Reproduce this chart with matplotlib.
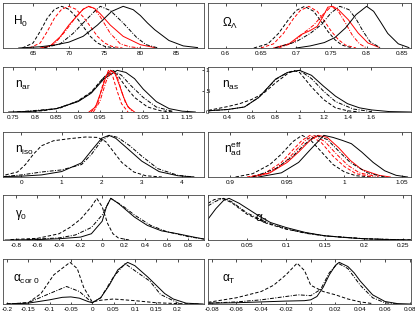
import matplotlib
matplotlib.use("Agg")
import matplotlib.pyplot as plt

plt.rcParams['font.family'] = ['Liberation Sans', 'DejaVu Sans']
plt.rcParams['mathtext.fontset'] = 'custom'
plt.rcParams['mathtext.rm'] = 'Liberation Sans'
plt.rcParams['mathtext.it'] = 'Liberation Sans'
plt.rcParams['mathtext.bf'] = 'Liberation Sans:bold'

# ---- H0 ----
h0_ks_x = [63, 66, 68, 70, 72, 74, 76, 77.6, 79, 80, 81, 82, 84, 86, 88]
h0_ks_y = [0, 0.03, 0.07, 0.14, 0.28, 0.55, 0.88, 1.0, 0.92, 0.78, 0.6, 0.44, 0.18, 0.05, 0.01]
h0_kd_x = [63.5, 65, 66, 67, 68, 69, 70, 71, 72, 73, 74, 75, 76.5]
h0_kd_y = [0, 0.12, 0.4, 0.72, 0.93, 1.0, 0.93, 0.75, 0.52, 0.28, 0.12, 0.04, 0]
h0_rd_x = [64.5, 66, 67, 68, 69, 70, 71, 72, 73, 74, 75, 76, 77.5]
h0_rd_y = [0, 0.12, 0.4, 0.72, 0.93, 1.0, 0.93, 0.75, 0.52, 0.28, 0.12, 0.04, 0]
h0_rs_x = [66, 67.4, 68.8, 70, 71.2, 72, 72.8, 73.6, 74.4, 75.8, 77.6, 80, 82]
h0_rs_y = [0, 0.05, 0.27, 0.55, 0.78, 0.93, 1.0, 0.95, 0.82, 0.55, 0.28, 0.08, 0.01]
h0_rdd_x = [66.5, 68, 69.5, 70.8, 72, 72.7, 73.5, 74.4, 75.8, 77.2, 78.5, 80]
h0_rdd_y = [0, 0.1, 0.4, 0.7, 0.93, 1.0, 0.95, 0.75, 0.35, 0.1, 0.03, 0]
h0_kdd_x = [66.5, 68.8, 70.6, 72, 73.6, 74.4, 75.8, 77.6, 79.5, 80.8, 82.5]
h0_kdd_y = [0, 0.1, 0.35, 0.6, 0.88, 1.0, 0.9, 0.6, 0.25, 0.08, 0]

# ---- Omega_Lambda ----
ol_kd_x = [0.64, 0.66, 0.675, 0.69, 0.70, 0.712, 0.725, 0.735, 0.745, 0.755, 0.765, 0.78]
ol_kd_y = [0, 0.1, 0.35, 0.7, 0.9, 1.0, 0.88, 0.65, 0.4, 0.2, 0.07, 0]
ol_rd_x = [0.65, 0.668, 0.682, 0.696, 0.706, 0.718, 0.73, 0.74, 0.75, 0.76, 0.77, 0.785]
ol_rd_y = [0, 0.1, 0.35, 0.7, 0.9, 1.0, 0.88, 0.65, 0.4, 0.2, 0.07, 0]
ol_rs_x = [0.668, 0.69, 0.707, 0.72, 0.73, 0.737, 0.745, 0.752, 0.76, 0.774, 0.788, 0.802, 0.817]
ol_rs_y = [0, 0.1, 0.32, 0.42, 0.52, 0.72, 0.98, 1.0, 0.92, 0.68, 0.36, 0.12, 0.02]
ol_rdd_x = [0.675, 0.695, 0.71, 0.725, 0.738, 0.75, 0.76, 0.77, 0.78, 0.79, 0.80]
ol_rdd_y = [0, 0.12, 0.35, 0.55, 0.8, 1.0, 0.88, 0.6, 0.3, 0.1, 0]
ol_kdd_x = [0.67, 0.70, 0.72, 0.735, 0.75, 0.762, 0.775, 0.785, 0.795, 0.805, 0.82]
ol_kdd_y = [0, 0.15, 0.35, 0.55, 0.85, 1.0, 0.92, 0.7, 0.4, 0.15, 0]
ol_ks_x = [0.7, 0.72, 0.74, 0.755, 0.77, 0.785, 0.80, 0.81, 0.82, 0.83, 0.845, 0.86]
ol_ks_y = [0, 0.05, 0.13, 0.25, 0.48, 0.8, 1.0, 0.88, 0.62, 0.35, 0.1, 0.01]

# ---- n_ar ----
nar_ks_x = [0.74, 0.8, 0.85, 0.9, 0.93, 0.96, 0.99, 1.01, 1.03, 1.05, 1.08, 1.11, 1.14, 1.17]
nar_ks_y = [0, 0.02, 0.08, 0.25, 0.45, 0.8, 1.0, 0.95, 0.8, 0.55, 0.25, 0.08, 0.02, 0]
nar_kd_x = [0.76, 0.82, 0.86, 0.9, 0.93, 0.955, 0.975, 0.99, 1.01, 1.03, 1.06, 1.09, 1.12]
nar_kd_y = [0, 0.03, 0.1, 0.27, 0.48, 0.78, 1.0, 0.9, 0.6, 0.35, 0.12, 0.03, 0]
nar_kdd_x = [0.76, 0.85, 0.9, 0.93, 0.955, 0.98, 1.0, 1.02, 1.05, 1.08, 1.12]
nar_kdd_y = [0, 0.08, 0.26, 0.46, 0.78, 1.0, 0.88, 0.65, 0.35, 0.12, 0.01]
nar_rs_x = [0.925, 0.94, 0.955, 0.965, 0.975, 0.985, 0.995, 1.005, 1.015, 1.03]
nar_rs_y = [0, 0.12, 0.55, 0.88, 1.0, 0.92, 0.65, 0.35, 0.12, 0]
nar_rd_x = [0.93, 0.945, 0.958, 0.97, 0.98, 0.99, 1.0, 1.015]
nar_rd_y = [0, 0.2, 0.7, 1.0, 0.85, 0.5, 0.2, 0]
nar_rdd_x = [0.935, 0.95, 0.965, 0.978, 0.99, 1.0, 1.01, 1.025]
nar_rdd_y = [0, 0.25, 0.75, 1.0, 0.85, 0.5, 0.2, 0]

# ---- n_as ----
nas_ks_x = [0.24, 0.4, 0.54, 0.66, 0.8, 0.9, 1.0, 1.1, 1.2, 1.3, 1.4, 1.5, 1.6, 1.75, 1.93]
nas_ks_y = [0.03, 0.06, 0.12, 0.35, 0.79, 0.95, 1.0, 0.88, 0.62, 0.38, 0.2, 0.1, 0.05, 0.01, 0]
nas_kd_x = [0.24, 0.4, 0.5, 0.6, 0.7, 0.8, 0.9, 0.95, 1.0, 1.1, 1.2, 1.3, 1.4, 1.5]
nas_kd_y = [0.04, 0.13, 0.2, 0.3, 0.45, 0.7, 0.92, 1.0, 0.95, 0.6, 0.3, 0.1, 0.03, 0]
nas_kdd_x = [0.24, 0.4, 0.54, 0.66, 0.8, 0.9, 1.0, 1.1, 1.2, 1.3, 1.45, 1.6]
nas_kdd_y = [0.03, 0.06, 0.12, 0.35, 0.78, 0.95, 1.0, 0.8, 0.5, 0.25, 0.07, 0.01]

# ---- n_iso ----
niso_ks_x = [-0.45, 0, 0.5, 1.0, 1.5, 1.75, 2.0, 2.18, 2.35, 2.6, 3.0, 3.43, 3.9, 4.3]
niso_ks_y = [0.01, 0.02, 0.05, 0.13, 0.34, 0.64, 0.93, 1.0, 0.93, 0.72, 0.38, 0.13, 0.03, 0]
niso_kdd_x = [-0.45, 0, 0.5, 1.0, 1.5, 1.75, 2.0, 2.2, 2.4, 2.7, 3.0, 3.4, 3.9, 4.3]
niso_kdd_y = [0.01, 0.05, 0.12, 0.17, 0.3, 0.55, 0.88, 1.0, 0.95, 0.75, 0.5, 0.2, 0.04, 0]
niso_kd_x = [-0.4, -0.1, 0.1, 0.3, 0.5, 0.8, 1.2, 1.6, 1.9, 2.1, 2.3, 2.5, 2.8, 3.1, 3.5]
niso_kd_y = [0.05, 0.12, 0.3, 0.55, 0.75, 0.87, 0.92, 0.96, 0.95, 0.85, 0.6, 0.35, 0.12, 0.03, 0]

# ---- n_ad^eff ----
nad_kd_x = [0.905, 0.92, 0.935, 0.945, 0.955, 0.963, 0.97, 0.98, 0.99, 1.0, 1.01, 1.025]
nad_kd_y = [0, 0.08, 0.3, 0.55, 0.85, 1.0, 0.9, 0.6, 0.3, 0.12, 0.03, 0]
nad_rd_x = [0.915, 0.93, 0.945, 0.955, 0.963, 0.97, 0.98, 0.99, 1.0, 1.01, 1.025]
nad_rd_y = [0, 0.08, 0.35, 0.65, 0.88, 1.0, 0.82, 0.5, 0.25, 0.08, 0]
nad_rdd_x = [0.918, 0.933, 0.948, 0.958, 0.966, 0.973, 0.983, 0.993, 1.003, 1.013, 1.03]
nad_rdd_y = [0, 0.08, 0.35, 0.65, 0.88, 1.0, 0.85, 0.55, 0.28, 0.1, 0]
nad_rs_x = [0.92, 0.935, 0.95, 0.96, 0.97, 0.977, 0.985, 0.995, 1.005, 1.015, 1.03, 1.04]
nad_rs_y = [0, 0.1, 0.35, 0.6, 0.88, 1.0, 0.95, 0.7, 0.4, 0.18, 0.04, 0]
nad_kdd_x = [0.92, 0.94, 0.955, 0.965, 0.975, 0.985, 0.995, 1.005, 1.02, 1.035]
nad_kdd_y = [0, 0.2, 0.5, 0.78, 1.0, 0.9, 0.62, 0.35, 0.1, 0]
nad_ks_x = [0.925, 0.945, 0.96, 0.97, 0.982, 0.99, 0.998, 1.006, 1.015, 1.025, 1.035, 1.045, 1.055]
nad_ks_y = [0, 0.1, 0.35, 0.65, 1.0, 0.95, 0.88, 0.8, 0.6, 0.35, 0.15, 0.04, 0]

# ---- gamma_0 ----
g0_ks_x = [-0.9, -0.6, -0.4, -0.2, -0.1, 0, 0.04, 0.08, 0.15, 0.3, 0.42, 0.55, 0.7, 0.85, 0.95]
g0_ks_y = [0, 0.01, 0.03, 0.07, 0.15, 0.45, 0.8, 1.0, 0.88, 0.55, 0.35, 0.22, 0.15, 0.07, 0.02]
g0_kdd_x = [-0.7, -0.4, -0.25, -0.1, 0, 0.08, 0.2, 0.3, 0.45, 0.6, 0.8, 0.95]
g0_kdd_y = [0.01, 0.05, 0.12, 0.3, 0.6, 1.0, 0.8, 0.6, 0.35, 0.2, 0.08, 0.02]
g0_kd_x = [-0.85, -0.6, -0.4, -0.3, -0.2, -0.1, -0.05, 0, 0.05, 0.1, 0.15, 0.25]
g0_kd_y = [0.01, 0.04, 0.15, 0.3, 0.5, 0.8, 1.0, 0.8, 0.4, 0.15, 0.05, 0]

# ---- alpha_0 ----
a0_ks_x = [0, 0.01, 0.02, 0.027, 0.04, 0.05, 0.065, 0.08, 0.1, 0.125, 0.15, 0.175, 0.2, 0.23, 0.26]
a0_ks_y = [0.5, 0.75, 0.95, 1.0, 0.88, 0.76, 0.58, 0.42, 0.3, 0.18, 0.1, 0.06, 0.03, 0.01, 0]
a0_kd_x = [0, 0.008, 0.018, 0.03, 0.05, 0.075, 0.1, 0.125, 0.15, 0.2, 0.26]
a0_kd_y = [0.88, 0.97, 1.0, 0.9, 0.62, 0.4, 0.26, 0.17, 0.1, 0.03, 0]
a0_kdd_x = [0, 0.01, 0.02, 0.03, 0.05, 0.075, 0.1, 0.125, 0.15, 0.2, 0.26]
a0_kdd_y = [0.82, 0.93, 1.0, 0.92, 0.65, 0.42, 0.27, 0.16, 0.1, 0.03, 0]

# ---- alpha_cor0 ----
ac_ks_x = [-0.2, -0.15, -0.1, -0.07, -0.05, -0.03, -0.01, 0, 0.02, 0.04, 0.06, 0.083, 0.1, 0.13, 0.15, 0.17, 0.19, 0.22, 0.26]
ac_ks_y = [0, 0.02, 0.1, 0.16, 0.17, 0.14, 0.06, 0.03, 0.15, 0.45, 0.82, 1.0, 0.92, 0.65, 0.45, 0.25, 0.12, 0.02, 0]
ac_kdd_x = [-0.2, -0.15, -0.1, -0.06, -0.03, 0, 0.02, 0.05, 0.077, 0.1, 0.135, 0.16, 0.2]
ac_kdd_y = [0, 0.03, 0.25, 0.42, 0.3, 0.03, 0.15, 0.65, 0.97, 0.8, 0.55, 0.23, 0.03]
ac_kd_x = [-0.2, -0.15, -0.12, -0.09, -0.052, -0.035, -0.02, 0, 0.02, 0.05, 0.1, 0.15, 0.2, 0.25]
ac_kd_y = [0, 0.03, 0.25, 0.7, 1.0, 0.85, 0.4, 0.05, 0.09, 0.12, 0.08, 0.03, 0.01, 0]

# ---- alpha_T ----
at_ks_x = [-0.083, -0.06, -0.04, -0.02, -0.005, 0, 0.005, 0.01, 0.015, 0.02, 0.023, 0.03, 0.035, 0.04, 0.05, 0.06, 0.07, 0.08]
at_ks_y = [0.02, 0.03, 0.05, 0.07, 0.08, 0.1, 0.18, 0.4, 0.7, 0.93, 1.0, 0.9, 0.75, 0.55, 0.22, 0.06, 0.01, 0]
at_kdd_x = [-0.083, -0.06, -0.04, -0.02, -0.01, 0, 0.008, 0.015, 0.022, 0.03, 0.04, 0.05, 0.06, 0.07]
at_kdd_y = [0.02, 0.05, 0.1, 0.18, 0.22, 0.2, 0.35, 0.75, 0.98, 0.85, 0.45, 0.15, 0.03, 0]
at_kd_x = [-0.083, -0.06, -0.04, -0.03, -0.02, -0.011, -0.005, 0, 0.01, 0.02, 0.03, 0.04, 0.05]
at_kd_y = [0.04, 0.15, 0.3, 0.45, 0.7, 0.98, 0.8, 0.45, 0.3, 0.22, 0.12, 0.05, 0.01]

labels = [r'$\mathrm{H}_0$', r'$\Omega_\Lambda$', r'$\mathrm{n}_{\mathrm{ar}}$', r'$\mathrm{n}_{\mathrm{as}}$',
          r'$\mathrm{n}_{\mathrm{iso}}$', r'$\mathrm{n}_{\mathrm{ad}}^{\mathrm{eff}}$', r'$\mathrm{\gamma}_0$',
          r'$\mathrm{\alpha}_0$', r'$\mathrm{\alpha}_{\mathrm{cor\ 0}}$', r'$\mathrm{\alpha}_\mathrm{T}$']
label_pos = [(0.05, 0.6), (0.07, 0.55), (0.06, 0.58), (0.07, 0.58), (0.06, 0.6),
             (0.08, 0.62), (0.06, 0.55), (0.23, 0.45), (0.05, 0.55), (0.07, 0.55)]
xlims = [(60.8, 88.9), (0.575, 0.863), (0.727, 1.19), (0.236, 1.93), (-0.46, 4.55),
         (0.881, 1.058), (-0.92, 0.945), (0, 0.26), (-0.209, 0.262), (-0.083, 0.081)]
xticks = [[65, 70, 75, 80, 85], [0.6, 0.65, 0.7, 0.75, 0.8, 0.85],
          [0.75, 0.8, 0.85, 0.9, 0.95, 1, 1.05, 1.1, 1.15], [0.4, 0.6, 0.8, 1, 1.2, 1.4, 1.6],
          [0, 1, 2, 3, 4], [0.9, 0.95, 1, 1.05], [-0.8, -0.6, -0.4, -0.2, 0, 0.2, 0.4, 0.6, 0.8],
          [0, 0.05, 0.1, 0.15, 0.2, 0.25], [-0.2, -0.15, -0.1, -0.05, 0, 0.05, 0.1, 0.15, 0.2],
          [-0.08, -0.06, -0.04, -0.02, 0, 0.02, 0.04, 0.06, 0.08]]

K, R = 'black', '#ff0000'
SOLID, DASH, DDOT = '-', (0, (3.5, 2)), (0, (4, 1.5, 1, 1.5))

curves = [
    [(h0_kd_x, h0_kd_y, K, DASH), (h0_rd_x, h0_rd_y, R, DASH), (h0_rs_x, h0_rs_y, R, SOLID),
     (h0_rdd_x, h0_rdd_y, R, DDOT), (h0_kdd_x, h0_kdd_y, K, DDOT), (h0_ks_x, h0_ks_y, K, SOLID)],
    [(ol_kd_x, ol_kd_y, K, DASH), (ol_rd_x, ol_rd_y, R, DASH), (ol_rs_x, ol_rs_y, R, SOLID),
     (ol_rdd_x, ol_rdd_y, R, DDOT), (ol_kdd_x, ol_kdd_y, K, DDOT), (ol_ks_x, ol_ks_y, K, SOLID)],
    [(nar_ks_x, nar_ks_y, K, SOLID), (nar_kd_x, nar_kd_y, K, DASH), (nar_kdd_x, nar_kdd_y, K, DDOT),
     (nar_rs_x, nar_rs_y, R, SOLID), (nar_rd_x, nar_rd_y, R, DASH), (nar_rdd_x, nar_rdd_y, R, DDOT)],
    [(nas_kd_x, nas_kd_y, K, DASH), (nas_kdd_x, nas_kdd_y, K, DDOT), (nas_ks_x, nas_ks_y, K, SOLID)],
    [(niso_kd_x, niso_kd_y, K, DASH), (niso_kdd_x, niso_kdd_y, K, DDOT), (niso_ks_x, niso_ks_y, K, SOLID)],
    [(nad_kd_x, nad_kd_y, K, DASH), (nad_rd_x, nad_rd_y, R, DASH), (nad_rdd_x, nad_rdd_y, R, DDOT),
     (nad_rs_x, nad_rs_y, R, SOLID), (nad_kdd_x, nad_kdd_y, K, DDOT), (nad_ks_x, nad_ks_y, K, SOLID)],
    [(g0_kd_x, g0_kd_y, K, DASH), (g0_kdd_x, g0_kdd_y, K, DDOT), (g0_ks_x, g0_ks_y, K, SOLID)],
    [(a0_kd_x, a0_kd_y, K, DASH), (a0_kdd_x, a0_kdd_y, K, DDOT), (a0_ks_x, a0_ks_y, K, SOLID)],
    [(ac_kd_x, ac_kd_y, K, DASH), (ac_kdd_x, ac_kdd_y, K, DDOT), (ac_ks_x, ac_ks_y, K, SOLID)],
    [(at_kd_x, at_kd_y, K, DASH), (at_kdd_x, at_kdd_y, K, DDOT), (at_ks_x, at_ks_y, K, SOLID)],
]

W, H = 415, 314
fig = plt.figure(figsize=(W / 100, H / 100), dpi=100)
col_left = [3, 208]
col_w = [201, 203]
row_top = [3, 67, 132, 195, 259]
row_h = 45

for i in range(10):
    r, c = i // 2, i % 2
    ax = fig.add_axes([col_left[c] / W, 1 - (row_top[r] + row_h) / H, col_w[c] / W, row_h / H])
    ax.patch.set_alpha(0)
    for xs, ys, col, ls in curves[i]:
        ax.plot(xs, ys, color=col, linestyle=ls, lw=0.7)
    ax.set_xlim(*xlims[i])
    ax.set_ylim(0, 1.08)
    ax.set_xticks(xticks[i])
    ax.set_xticklabels([('%g' % t) for t in xticks[i]])
    ax.tick_params(axis='x', direction='in', length=1.8, width=0.5, top=True,
                   labelsize=4.6, pad=2.2, colors='black')
    ax.set_yticks([])
    if i == 2:
        ax.set_yticks([0, 0.5, 1])
        ax.set_yticklabels(['0', '.5', '1'])
        ax.tick_params(axis='y', direction='in', length=1.8, width=0.5, left=False,
                       right=True, labelleft=False, labelright=True, labelsize=4.6, pad=1.2)
    for s in ax.spines.values():
        s.set_linewidth(0.6)
        s.set_color('#444444')
    lx, ly = label_pos[i]
    ax.text(lx, ly, labels[i], transform=ax.transAxes, fontsize=8.5, ha='left', va='center')

fig.savefig('out.png', dpi=100)
